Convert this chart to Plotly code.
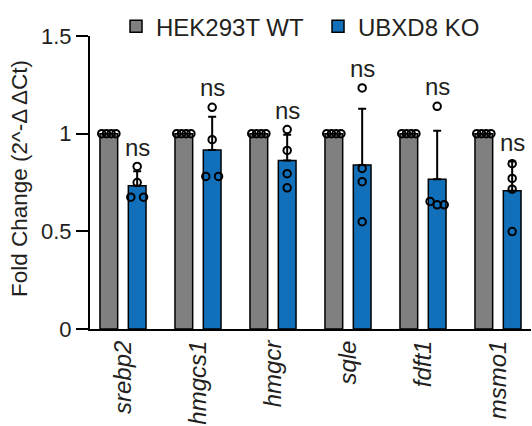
import numpy as np
import plotly.graph_objects as go

genes = ["srebp2", "hmgcs1", "hmgcr", "sqle", "fdft1", "msmo1"]
series_names = ["HEK293T WT", "UBXD8 KO"]

wt_points = [
    [1.0, 1.0, 1.0, 1.0],
    [1.0, 1.0, 1.0, 1.0],
    [1.0, 1.0, 1.0, 1.0],
    [1.0, 1.0, 1.0, 1.0],
    [1.0, 1.0, 1.0, 1.0],
    [1.0, 1.0, 1.0, 1.0],
]
ko_points = [
    [0.832, 0.750, 0.675, 0.675],
    [1.135, 0.969, 0.781, 0.781],
    [1.021, 0.914, 0.795, 0.723],
    [1.234, 0.822, 0.754, 0.549],
    [1.140, 0.653, 0.636, 0.636],
    [0.846, 0.771, 0.716, 0.499],
]
sig_labels = ["ns", "ns", "ns", "ns", "ns", "ns"]
y_ticks = [0, 0.5, 1, 1.5]
y_ticktext = ["0", "0.5", "1", "1.5"]

GRAY = "#808080"
BLUE = "#1170b9"
TXT = "#231f20"
FONT = "Liberation Sans, Arial, sans-serif"

BAR_W = 0.236
OFF_WT = -0.307
OFF_KO = 0.071

idx = np.arange(len(genes))
wt_mean = [float(np.mean(p)) for p in wt_points]
ko_mean = [float(np.mean(p)) for p in ko_points]
ko_sd = [float(np.std(p, ddof=1)) for p in ko_points]


def swarm(values, center):
    """Spread points with (nearly) equal y values horizontally."""
    vals = list(values)
    n = len(vals)
    xs = [center] * n
    used = [False] * n
    for i in range(n):
        if used[i]:
            continue
        grp = [j for j in range(n) if not used[j] and abs(vals[j] - vals[i]) < 0.03]
        for j in grp:
            used[j] = True
        m = len(grp)
        if m > 1:
            sp = min(0.17, BAR_W * 0.8 / (m - 1))
            for k, j in enumerate(grp):
                xs[j] = center + (k - (m - 1) / 2) * sp
    return xs


fig = go.Figure()
fig.add_trace(go.Bar(
    x=idx, y=wt_mean, width=BAR_W, offset=OFF_WT, name=series_names[0],
    marker=dict(color=GRAY, line=dict(color="black", width=1.5)),
))
fig.add_trace(go.Bar(
    x=idx, y=ko_mean, width=BAR_W, offset=OFF_KO, name=series_names[1],
    marker=dict(color=BLUE, line=dict(color="black", width=1.5)),
    error_y=dict(type="data", symmetric=False, array=ko_sd,
                 arrayminus=[0] * len(ko_sd), color="black", thickness=2, width=4),
))

px, py = [], []
for i in idx:
    for pts, off in ((wt_points[i], OFF_WT), (ko_points[i], OFF_KO)):
        c = i + off + BAR_W / 2
        px += swarm(pts, c)
        py += list(pts)
fig.add_trace(go.Scatter(
    x=px, y=py, mode="markers", showlegend=False, hoverinfo="skip",
    marker=dict(symbol="circle-open", size=7.5, color="black", line=dict(width=2)),
))

for i in idx:
    top = max(max(ko_points[i]), ko_mean[i] + ko_sd[i])
    fig.add_annotation(
        x=i + OFF_KO + BAR_W / 2, y=top + 0.02, text=sig_labels[i],
        showarrow=False, yanchor="bottom", xanchor="center",
        font=dict(size=24, color=TXT, family=FONT),
    )

fig.add_annotation(
    xref="paper", yref="paper", x=0, y=0.512, xshift=-70,
    text="Fold Change (2^-Δ ΔCt)", textangle=-90, showarrow=False,
    xanchor="center", yanchor="middle",
    font=dict(size=22.5, color=TXT, family=FONT),
)

fig.update_layout(
    width=532, height=426,
    margin=dict(l=90, r=1, t=36, b=97, autoexpand=False),
    plot_bgcolor="white", paper_bgcolor="white",
    font=dict(family=FONT, color=TXT),
    barmode="overlay",
    showlegend=True,
    legend=dict(orientation="h", x=0.059, xanchor="left",
                yref="container", y=0.99, yanchor="top",
                entrywidth=157, entrywidthmode="pixels",
                font=dict(size=24, color=TXT, family=FONT), bgcolor="rgba(0,0,0,0)",
                traceorder="normal", itemclick=False),
    xaxis=dict(
        range=[-0.44, 5.44], tickmode="array", tickvals=idx, ticktext=genes,
        tickangle=-90, ticks="", showline=True, linecolor="black", linewidth=2,
        showgrid=False, zeroline=False, automargin=False,
        tickfont=dict(size=24, color=TXT, family=FONT, style="italic"),
    ),
    yaxis=dict(
        range=[0, 1.5], tickmode="array", tickvals=y_ticks, ticktext=y_ticktext,
        ticks="outside", ticklen=12, tickwidth=2, tickcolor="black",
        showline=True, linecolor="black", linewidth=2,
        showgrid=False, zeroline=False, automargin=False,
        tickfont=dict(size=22, color=TXT, family=FONT),
    ),
)

fig.write_html("out.html", config={"displayModeBar": False},
               post_script="document.body.style.margin='0';")
